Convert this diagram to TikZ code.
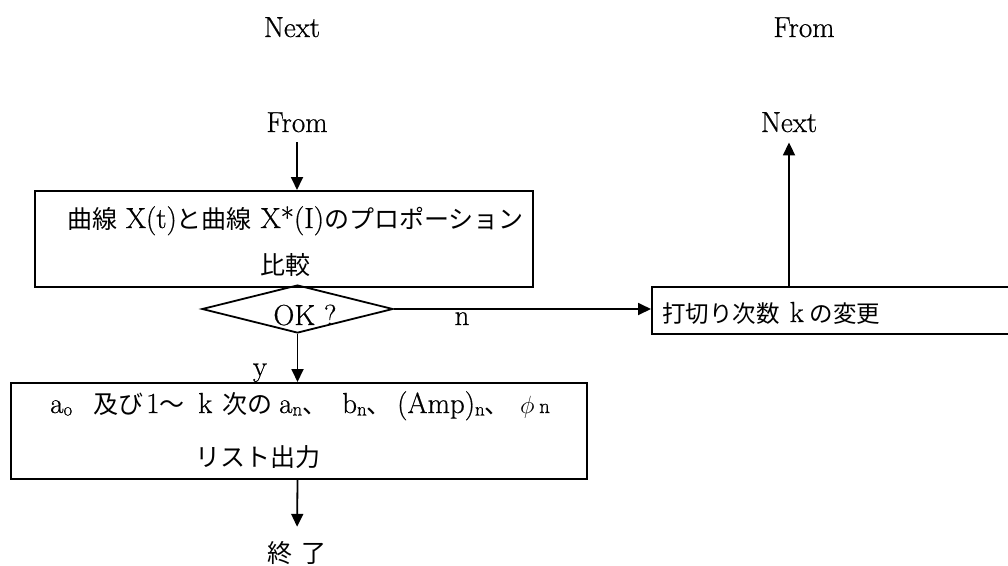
\documentclass[tikz,border=0pt]{standalone}
\usepackage{fontspec}
\setmainfont{Latin Modern Roman}[FakeBold=0.6]
\newfontfamily\cjk{Noto Sans CJK JP}
\usetikzlibrary{arrows.meta,shapes.geometric}

% Japanese runs set in the CJK family
\newcommand\jtext[1]{{\fontsize{25}{30}\selectfont\cjk #1}}
\newcommand\jsmall[1]{{\fontsize{23.5}{28}\selectfont\cjk #1}}
% small, slightly lowered index letters
\newcommand\lowsub[1]{\raisebox{-0.2ex}{\fontsize{19}{19}\selectfont #1}}
% fixed-pitch cell for one group of a text line
\newcommand\cell[2]{\makebox[#1][l]{#2}}

\begin{document}
\begin{tikzpicture}[x=1pt,y=-1pt,
  font=\fontsize{29}{33}\selectfont,
  flowbox/.style={draw, line width=1.8pt, inner sep=0pt, anchor=north west},
  decision/.style={draw, diamond, line width=1.8pt, inner sep=0pt,
    minimum width=191pt, minimum height=48pt, aspect=4},
  conn/.style={line width=1.8pt, -{Triangle[length=13pt,width=12pt]}},
  lbl/.style={inner sep=0pt},
]
\useasboundingbox (0,0) rectangle (1008,565);

% off-page connector labels
\node[lbl, anchor=base] (next1) at (292,37) {Next};
\node[lbl, anchor=base] (from2) at (804,37) {From};
\node[lbl, anchor=base] (from1) at (297,132) {From};
\node[lbl, anchor=base] (next2) at (789,132) {Next};

% comparison box
\node[flowbox, minimum width=498pt, minimum height=96pt] (cmp) at (34,190) {};
\node[lbl, anchor=base west] (cmpa) at (67,228)
  {\jtext{曲線} X(t)\jtext{と曲線} X*(I)\jtext{のプロポーション}};
\node[lbl, anchor=base west] (cmpb) at (260,274) {\jtext{比較}};

% decision
\node[decision] (dec) at (297.5,309) {};
\node[lbl, anchor=base] (ok) at (305,325) {OK ?};

% change of truncation order
\node[flowbox, minimum width=380pt, minimum height=47pt] (chg) at (651,286) {};
\node[lbl, anchor=base west] (chgt) at (662,322)
  {\jsmall{打切り次数}\hspace{10pt}k\hspace{6pt}\jsmall{の変更}};

% result listing box
\node[flowbox, minimum width=576pt, minimum height=96pt] (res) at (10,382) {};
\node[lbl, anchor=base west] (resa) at (50,413)
  {\cell{43pt}{a\lowsub{o}}\cell{53pt}{\jtext{及び}}\cell{52pt}{1\jtext{〜}}\cell{24pt}{k}%
   \cell{57pt}{\jtext{次の}}\cell{63pt}{a\lowsub{n}\jtext{、}}\cell{55pt}{b\lowsub{n}\jtext{、}}%
   \cell{123pt}{(Amp)\lowsub{n}\jtext{、}}\cell{19pt}{$\phi$}{\fontsize{21}{21}\selectfont n}};
\node[lbl, anchor=base west] (resb) at (195,466) {\jtext{リスト出力}};

% end
\node[lbl, anchor=base] (fin) at (297,562) {\jtext{終}\hspace{0.3em}\jtext{了}};

% branch labels
\node[lbl, anchor=base] (ylab) at (260,376) {y};
\node[lbl, anchor=base] (nlab) at (462,325) {n};

% connectors
\draw[conn, shorten <=10pt] (from1.south) -- (from1.south |- cmp.north);
\draw[conn] (dec.east) -- (dec.east -| chg.west);
\draw[conn] (dec.south) -- (dec.south |- res.north);
\draw[conn, shorten >=14pt] (res.south -| dec.south) -- (fin.north);
\draw[conn, shorten >=10pt] (chg.north -| next2.south) -- (next2.south);
\end{tikzpicture}
\end{document}
